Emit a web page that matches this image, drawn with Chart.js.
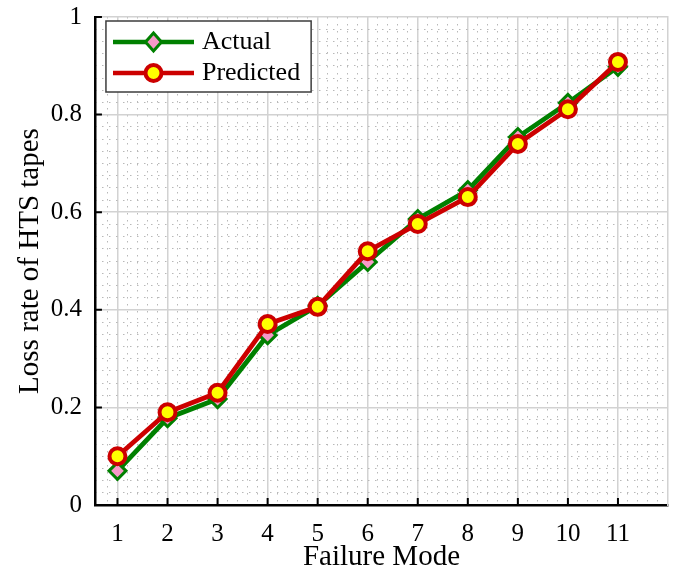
<!DOCTYPE html>
<html><head><meta charset="utf-8">
<script src="https://cdn.jsdelivr.net/npm/chart.js@4.4.1/dist/chart.umd.min.js"></script>
<style>html,body{margin:0;padding:0;background:#fff;} #wrap{width:675px;height:572px;}</style>
</head><body><div id="wrap"><canvas id="c" width="675" height="572"></canvas></div>
<script>
const failureModes = [1,2,3,4,5,6,7,8,9,10,11];
const actual    = [0.070,0.178,0.217,0.348,0.408,0.498,0.586,0.645,0.754,0.824,0.898];
const predicted = [0.100,0.190,0.230,0.371,0.406,0.520,0.576,0.631,0.740,0.811,0.908];
const xTickValues = [1,2,3,4,5,6,7,8,9,10,11];
const yTickValues = [0,0.2,0.4,0.6,0.8,1];
const yTickLabels = ['0','0.2','0.4','0.6','0.8','1'];
const seriesNames = ['Actual','Predicted'];
const xTitle = 'Failure Mode';
const yTitle = 'Loss rate of HTS tapes';
const X_MIN = 0.55, X_MAX = 12, Y_MIN = 0, Y_MAX = 1;

const FONT = "'Liberation Serif', 'Times New Roman', serif";
const GREEN = '#008000', PINK = '#f799c8', RED = '#cc0000', YELLOW = '#ffff00';
const MAJOR = '#d2d2d2', MINOR = '#b8b8b8';

function makeIcon(kind){
  const cv = document.createElement('canvas');
  cv.width = 100; cv.height = 26;
  const g = cv.getContext('2d');
  const cy = 13, mx = 58.5;
  g.lineWidth = 4.5; g.strokeStyle = kind === 'd' ? GREEN : RED;
  g.beginPath(); g.moveTo(18, cy); g.lineTo(99, cy); g.stroke();
  g.beginPath();
  if (kind === 'd') {
    g.lineWidth = 3;
    g.moveTo(mx, cy - 9); g.lineTo(mx + 8, cy); g.lineTo(mx, cy + 9); g.lineTo(mx - 8, cy); g.closePath();
    g.fillStyle = PINK;
  } else {
    g.lineWidth = 4;
    g.arc(mx, cy, 8, 0, Math.PI * 2);
    g.fillStyle = YELLOW;
  }
  g.fill(); g.stroke();
  return cv;
}
const legendIcons = [makeIcon('d'), makeIcon('c')];

const isMultiple = (v, s) => Math.abs(v / s - Math.round(v / s)) < 1e-6;

const innerTicks = {
  id: 'innerTicks',
  beforeDatasetsDraw(chart){
    const {ctx, chartArea: a, scales: {x, y}} = chart;
    ctx.save();
    ctx.strokeStyle = '#000'; ctx.lineWidth = 2;
    ctx.beginPath();
    xTickValues.forEach(v => { const px = x.getPixelForValue(v); ctx.moveTo(px, a.bottom); ctx.lineTo(px, a.bottom - 7); });
    yTickValues.forEach(v => { const py = y.getPixelForValue(v); ctx.moveTo(a.left, py); ctx.lineTo(a.left + 7, py); });
    ctx.stroke();
    ctx.restore();
  }
};

const legendFrame = {
  id: 'legendFrame',
  afterLayout(chart){
    const lg = chart.legend; if (!lg) return;
    const a = chart.chartArea;
    lg.left = a.left + 1;
    lg.top = a.top + 7;
    lg.right = lg.left + 400;
    lg.bottom = lg.top + 200;
    if (!lg.__patched) {
      const orig = lg.draw;
      lg.draw = function(...args){
        const hb = this.legendHitBoxes;
        if (hb && hb.length) {
          const ctx = this.ctx;
          let r = 0;
          hb.forEach(h => { r = Math.max(r, h.left + h.width); });
          const l = hb[0].left + 5, t = hb[0].top - 8;
          const last = hb[hb.length - 1];
          const b = last.top + last.height + 6;
          ctx.save();
          ctx.fillStyle = '#fff';
          ctx.fillRect(l, t, r + 11 - l, b - t);
          ctx.strokeStyle = '#3c3c3c'; ctx.lineWidth = 1.5;
          ctx.strokeRect(l, t, r + 11 - l, b - t);
          ctx.restore();
        }
        return orig.apply(this, args);
      };
      lg.__patched = true;
    }
  }
};

new Chart(document.getElementById('c'), {
  type: 'line',
  data: {
    datasets: [
      {
        label: seriesNames[0],
        data: failureModes.map((m, i) => ({x: m, y: actual[i]})),
        borderColor: GREEN, borderWidth: 4.8,
        pointStyle: 'rectRot', pointRadius: 8.5, pointBorderWidth: 3,
        pointBackgroundColor: PINK, pointBorderColor: GREEN,
        tension: 0, order: 1
      },
      {
        label: seriesNames[1],
        data: failureModes.map((m, i) => ({x: m, y: predicted[i]})),
        borderColor: RED, borderWidth: 4.8,
        pointStyle: 'circle', pointRadius: 8, pointBorderWidth: 4,
        pointBackgroundColor: YELLOW, pointBorderColor: RED,
        tension: 0, order: 0
      }
    ]
  },
  options: {
    responsive: false,
    animation: false,
    layout: { autoPadding: false, padding: { top: 17, right: 7, bottom: 0, left: 0 } },
    scales: {
      x: {
        type: 'linear', position: 'bottom', min: X_MIN, max: X_MAX,
        afterBuildTicks(s){ s.ticks = xTickValues.map(v => ({value: v})); },
        ticks: {
          color: '#000', padding: 16.5, maxRotation: 0, autoSkip: false,
          font: { family: FONT, size: 25, lineHeight: 1 },
          callback: (v) => String(v)
        },
        grid: { color: MAJOR, lineWidth: 1.5, drawTicks: false },
        border: { display: true, color: '#000', width: 2.5 },
        title: { display: true, text: xTitle, color: '#000', font: { family: FONT, size: 29, lineHeight: 1 }, padding: { top: -20.5, bottom: 0.5 } }
      },
      xMinor: {
        type: 'linear', position: 'bottom', min: X_MIN, max: X_MAX,
        ticks: { display: false, stepSize: 0.2 },
        grid: { drawTicks: false, lineWidth: 1, color: (c) => (c.tick && isMultiple(c.tick.value, 1)) ? 'rgba(0,0,0,0)' : MINOR },
        border: { display: false, dash: [1.5, 5.5] }
      },
      y: {
        type: 'linear', position: 'left', min: Y_MIN, max: Y_MAX,
        afterBuildTicks(s){ s.ticks = yTickValues.map(v => ({value: v})); },
        ticks: {
          color: '#000', padding: 13,
          font: { family: FONT, size: 25, lineHeight: 0.3 },
          callback: (v, i) => yTickLabels[i]
        },
        grid: { color: MAJOR, lineWidth: 1.5, drawTicks: false },
        border: { display: true, color: '#000', width: 2.5 },
        title: { display: true, text: yTitle, color: '#000', font: { family: FONT, size: 29, lineHeight: 1 }, padding: { top: 15.5, bottom: -6.8 } }
      },
      yMinor: {
        type: 'linear', position: 'left', min: Y_MIN, max: Y_MAX,
        ticks: { display: false, stepSize: 0.025 },
        grid: { drawTicks: false, lineWidth: 1, color: (c) => (c.tick && isMultiple(c.tick.value, 0.2)) ? 'rgba(0,0,0,0)' : MINOR },
        border: { display: false, dash: [1.5, 5.5] }
      },
      yRight: {
        type: 'linear', position: 'right', min: Y_MIN, max: Y_MAX,
        ticks: { display: false },
        grid: { display: false, drawTicks: false },
        border: { display: true, color: MAJOR, width: 1.5 }
      }
    },
    plugins: {
      tooltip: { enabled: false },
      legend: {
        position: 'chartArea', align: 'start',
        labels: {
          usePointStyle: true, pointStyleWidth: 88, padding: 5, color: '#000',
          font: { family: FONT, size: 26 },
          generateLabels(chart){
            return chart.data.datasets.map((ds, i) => ({
              text: ds.label, datasetIndex: i, pointStyle: legendIcons[i],
              fillStyle: '#fff', strokeStyle: '#fff', lineWidth: 0, hidden: false, fontColor: '#000'
            }));
          }
        }
      }
    }
  },
  plugins: [innerTicks, legendFrame]
});
</script>
</body></html>
